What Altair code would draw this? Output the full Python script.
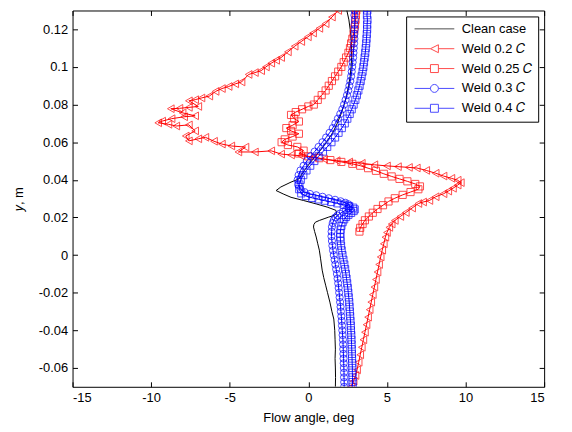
import altair as alt
import pandas as pd

# ---------------- data ----------------
series_names = ["Clean case", "Weld 0.2 𝐶", "Weld 0.25 𝐶", "Weld 0.3 𝐶", "Weld 0.4 𝐶"]
series_colors = ["#000000", "#ff0000", "#ff0000", "#0000ff", "#0000ff"]
series_shapes = [None, "triangle-left", "square", "circle", "square"]
series_sizes = [0, 60, 52, 52, 52]

x_ticks = [-15, -10, -5, 0, 5, 10, 15]
y_ticks = [-0.06, -0.04, -0.02, 0, 0.02, 0.04, 0.06, 0.08, 0.1, 0.12]

clean = [(2.45, 0.13), (2.58, 0.125), (2.66, 0.12), (2.72, 0.115), (2.75, 0.11), (2.75, 0.105),
         (2.72, 0.10), (2.66, 0.095), (2.56, 0.09), (2.44, 0.085), (2.28, 0.08), (2.08, 0.075),
         (1.84, 0.07), (1.55, 0.065), (1.15, 0.06), (0.7, 0.055), (0.2, 0.05), (-0.25, 0.045),
         (-0.6, 0.0405), (-1.1, 0.0388), (-1.75, 0.0362), (-2.05, 0.0343), (-1.6, 0.0325),
         (-1.1, 0.0307), (-0.3, 0.029), (0.5, 0.0272), (1.2, 0.0255), (1.75, 0.0238), (1.8, 0.0222),
         (1.65, 0.0211), (1.3, 0.0202), (1.0, 0.0193), (0.7, 0.0184), (0.45, 0.0175), (0.35, 0.0162),
         (0.33, 0.0149), (0.4, 0.0125), (0.5, 0.0096), (0.6, 0.006), (0.7, 0.0026), (0.78, -0.002),
         (0.88, -0.008), (0.98, -0.012), (1.1, -0.016), (1.22, -0.02), (1.37, -0.025), (1.5, -0.03),
         (1.62, -0.034), (1.68, -0.04), (1.7, -0.045), (1.72, -0.05), (1.7, -0.055), (1.72, -0.06),
         (1.73, -0.065), (1.72, -0.07)]

weld02 = [(1.9, 0.13), (1.5, 0.1265), (1.1, 0.123), (0.7, 0.1205), (0.3, 0.118), (-0.03, 0.116),
          (-0.45, 0.1135), (-0.87, 0.111), (-1.3, 0.108), (-1.73, 0.105), (-2.05, 0.1035),
          (-2.36, 0.102), (-2.7, 0.1), (-3.0, 0.098), (-3.4, 0.097), (-3.8, 0.096), (-4.25, 0.092),
          (-4.65, 0.091), (-5.07, 0.0896), (-5.5, 0.0885), (-5.9, 0.087), (-6.3, 0.0845),
          (-6.8, 0.0835), (-7.2, 0.0826), (-7.6, 0.082), (-7.0, 0.079), (-7.6, 0.0785), (-8.2, 0.078),
          (-8.75, 0.0778), (-8.0, 0.0756), (-7.2, 0.074), (-7.9, 0.0735), (-8.7, 0.0725),
          (-9.3, 0.0712), (-9.55, 0.0703), (-8.9, 0.0695), (-8.4, 0.0686), (-7.6, 0.0692),
          (-7.2, 0.066), (-7.8, 0.0633), (-7.6, 0.0607), (-7.0, 0.0618), (-6.55, 0.0626),
          (-6.0, 0.0605), (-5.5, 0.059), (-4.9, 0.058), (-4.0, 0.0574), (-4.45, 0.0548),
          (-3.4, 0.0548), (-2.36, 0.0554), (-1.73, 0.0537), (-1.1, 0.0532), (-0.47, 0.0528),
          (0.3, 0.052), (1.0, 0.051), (1.8, 0.0502), (2.6, 0.0495), (3.4, 0.0488), (4.2, 0.048),
          (5.0, 0.0474), (5.7, 0.047), (6.4, 0.0466), (6.9, 0.0463), (7.5, 0.045), (8.1, 0.0435),
          (8.6, 0.042), (9.1, 0.0408), (9.5, 0.0398), (9.7, 0.0385), (9.5, 0.0372), (9.2, 0.0355),
          (8.9, 0.034), (8.6, 0.0326), (8.1, 0.031), (7.7, 0.029), (7.3, 0.0282), (7.0, 0.0274),
          (6.6, 0.025), (6.2, 0.0226), (5.85, 0.0205), (5.5, 0.0184), (5.3, 0.0165), (5.15, 0.0147),
          (5.0, 0.012), (4.9, 0.0095), (4.8, 0.006), (4.7, 0.0026), (4.6, -0.001), (4.5, -0.005),
          (4.4, -0.009), (4.3, -0.013), (4.2, -0.017), (4.1, -0.021), (4.0, -0.025), (3.9, -0.029),
          (3.8, -0.033), (3.7, -0.037), (3.6, -0.041), (3.5, -0.045), (3.4, -0.049), (3.3, -0.053),
          (3.2, -0.057), (3.1, -0.061), (3.0, -0.064), (2.88, -0.067), (2.72, -0.07)]

weld025 = [(3.05, 0.13), (3.02, 0.1275), (3.0, 0.125), (2.97, 0.1225), (2.93, 0.12), (2.88, 0.1175),
           (2.8, 0.115), (2.72, 0.1125), (2.65, 0.11), (2.55, 0.1075), (2.4, 0.105), (2.25, 0.1025),
           (2.1, 0.1), (1.9, 0.0975), (1.7, 0.095), (1.5, 0.0925), (1.3, 0.09), (1.1, 0.0875),
           (0.85, 0.085), (0.6, 0.0825), (0.35, 0.08), (0.0, 0.079), (-0.4, 0.0775), (-0.8, 0.076),
           (-1.1, 0.0745), (-0.9, 0.0725), (-0.6, 0.071), (-1.0, 0.069), (-1.4, 0.0675), (-1.1, 0.066),
           (-0.6, 0.0645), (-1.0, 0.063), (-1.5, 0.0615), (-1.7, 0.06), (-1.3, 0.0585), (-0.7, 0.0575),
           (-0.3, 0.0555), (-0.6, 0.054), (0.0, 0.0525), (0.7, 0.0515), (1.4, 0.0505), (2.1, 0.0495),
           (2.8, 0.0485), (3.3, 0.0475), (3.8, 0.0462), (4.3, 0.0448), (4.8, 0.0432), (5.3, 0.0418),
           (5.8, 0.0405), (6.3, 0.0392), (6.8, 0.0378), (7.1, 0.0365), (7.0, 0.035), (6.5, 0.0335),
           (6.0, 0.032), (5.5, 0.0302), (5.1, 0.0285), (4.75, 0.0265), (4.4, 0.0245), (4.1, 0.0225),
           (3.85, 0.0205), (3.6, 0.0185), (3.45, 0.0165), (3.3, 0.0145), (3.25, 0.0125)]

weld03 = [(2.95, 0.13), (2.93, 0.1275), (2.96, 0.125), (2.94, 0.1225), (2.95, 0.12), (2.93, 0.1175),
          (2.93, 0.115), (2.91, 0.1125), (2.89, 0.11), (2.87, 0.1075), (2.85, 0.105), (2.82, 0.1025),
          (2.79, 0.1), (2.76, 0.0975), (2.72, 0.095), (2.67, 0.0925), (2.61, 0.09), (2.54, 0.0875),
          (2.46, 0.085), (2.37, 0.0825), (2.27, 0.08), (2.16, 0.0775), (2.03, 0.075), (1.88, 0.0725),
          (1.72, 0.07), (1.55, 0.0675), (1.35, 0.065), (1.13, 0.0625), (0.9, 0.06), (0.65, 0.0575),
          (0.4, 0.055), (0.15, 0.0525), (-0.1, 0.05), (-0.3, 0.0475), (-0.5, 0.045), (-0.62, 0.0425),
          (-0.68, 0.04), (-0.65, 0.0375), (-0.5, 0.035), (-0.25, 0.0335), (0.1, 0.0325), (0.5, 0.0318),
          (0.9, 0.031), (1.3, 0.0302), (1.7, 0.0294), (2.05, 0.0286), (2.35, 0.0278), (2.55, 0.027),
          (2.62, 0.026), (2.55, 0.025), (2.4, 0.024), (2.2, 0.023), (2.0, 0.022), (1.85, 0.021),
          (1.72, 0.02), (1.62, 0.0185), (1.55, 0.017), (1.5, 0.015), (1.48, 0.0125), (1.47, 0.01),
          (1.5, 0.0075), (1.53, 0.005), (1.57, 0.0025), (1.62, 0.0), (1.67, -0.0025), (1.72, -0.005),
          (1.77, -0.0075), (1.82, -0.01), (1.86, -0.0125), (1.9, -0.015), (1.93, -0.0175),
          (1.96, -0.02), (1.99, -0.0225), (2.02, -0.025), (2.05, -0.0275), (2.07, -0.03),
          (2.1, -0.0325), (2.12, -0.035), (2.14, -0.0375), (2.16, -0.04), (2.18, -0.0425),
          (2.2, -0.045), (2.21, -0.0475), (2.22, -0.05), (2.23, -0.0525), (2.24, -0.055),
          (2.25, -0.0575), (2.26, -0.06), (2.27, -0.0625), (2.27, -0.065), (2.28, -0.0675),
          (2.28, -0.07)]

weld04 = [(3.75, 0.13), (3.73, 0.1275), (3.76, 0.125), (3.74, 0.1225), (3.74, 0.12), (3.72, 0.1175),
          (3.7, 0.115), (3.68, 0.1125), (3.65, 0.11), (3.62, 0.1075), (3.58, 0.105), (3.54, 0.1025),
          (3.5, 0.1), (3.45, 0.0975), (3.39, 0.095), (3.33, 0.0925), (3.26, 0.09), (3.18, 0.0875),
          (3.09, 0.085), (2.99, 0.0825), (2.88, 0.08), (2.76, 0.0775), (2.63, 0.075), (2.48, 0.0725),
          (2.32, 0.07), (2.13, 0.0675), (1.92, 0.065), (1.7, 0.0625), (1.47, 0.06), (1.2, 0.0575),
          (0.93, 0.055), (0.65, 0.0525), (0.38, 0.05), (0.12, 0.0475), (-0.12, 0.045), (-0.32, 0.0425),
          (-0.48, 0.04), (-0.57, 0.0375), (-0.58, 0.035), (-0.45, 0.0328), (-0.15, 0.0314),
          (0.25, 0.0304), (0.65, 0.0296), (1.05, 0.0289), (1.45, 0.0282), (1.85, 0.0275),
          (2.25, 0.0268), (2.6, 0.026), (2.85, 0.0252), (2.95, 0.0243), (2.88, 0.0234), (2.72, 0.0224),
          (2.55, 0.0214), (2.4, 0.0203), (2.28, 0.019), (2.18, 0.0175), (2.1, 0.0155), (2.05, 0.0135),
          (2.03, 0.0115), (2.03, 0.0095), (2.05, 0.0075), (2.08, 0.005), (2.12, 0.0025), (2.17, 0.0),
          (2.23, -0.0025), (2.29, -0.005), (2.34, -0.0075), (2.39, -0.01), (2.43, -0.0125),
          (2.47, -0.015), (2.51, -0.0175), (2.54, -0.02), (2.57, -0.0225), (2.6, -0.025),
          (2.62, -0.0275), (2.64, -0.03), (2.66, -0.0325), (2.68, -0.035), (2.7, -0.0375),
          (2.71, -0.04), (2.73, -0.0425), (2.74, -0.045), (2.75, -0.0475), (2.76, -0.05),
          (2.77, -0.0525), (2.78, -0.055), (2.79, -0.0575), (2.8, -0.06), (2.8, -0.0625),
          (2.81, -0.065), (2.81, -0.0675), (2.82, -0.07)]

all_series = [clean, weld02, weld025, weld03, weld04]

# legend symbols: line with marker (custom SVG paths, unit = sqrt(size)/2 px)
legend_paths = [
    "M-1,0H9",
    "M-1,0H3M5,0H9M3,0L5,-1L5,1Z",
    "M-1,0H3M5,0H9M3,-1H5V1H3Z",
    "M-1,0H3M5,0H9M5,0A1,1,0,1,1,3,0A1,1,0,1,1,5,0Z",
    "M-1,0H3M5,0H9M3,-1H5V1H3Z",
]

rows = []
for name, pts in zip(series_names, all_series):
    for i, (a, b) in enumerate(pts):
        rows.append({"series": name, "x": a, "y": b, "idx": i})
df = pd.DataFrame(rows)
legend_df = pd.DataFrame({"series": series_names})

# ---------------- chart ----------------
W, H = 475, 379
FONT = "Liberation Sans"

xscale = alt.Scale(domain=[-15, 15], nice=False, zero=False)
yscale = alt.Scale(domain=[-0.07, 0.13], nice=False, zero=False)
cscale = alt.Scale(domain=series_names, range=series_colors)

lab = "'' + datum.value"

main_x = alt.Axis(orient="bottom", values=x_ticks, title="Flow angle, deg", ticks=False, tickSize=0,
                  labelPadding=5, titlePadding=7, domain=False, grid=False, labelExpr=lab)
main_y = alt.Axis(orient="left", values=y_ticks, title="𝑦, m", ticks=False, tickSize=0,
                  labelPadding=5, titlePadding=13, domain=False, grid=False, labelExpr=lab)


def tick_axis(orient, offset, vals):
    return alt.Axis(orient=orient, offset=offset, values=vals, labels=False, title=None,
                    ticks=True, tickSize=5, tickColor="black", tickWidth=1, domain=False, grid=False)


layers = []
for k, (name, shape, col, sz) in enumerate(zip(series_names, series_shapes, series_colors, series_sizes)):
    sub = alt.Chart(df).transform_filter(alt.datum.series == name)
    if k == 0:
        xe = alt.X("x:Q", scale=xscale, axis=main_x)
        ye = alt.Y("y:Q", scale=yscale, axis=main_y)
    else:
        xe = alt.X("x:Q", scale=xscale, axis=None)
        ye = alt.Y("y:Q", scale=yscale, axis=None)
    layers.append(
        sub.mark_line(strokeWidth=1, clip=True, color=col).encode(x=xe, y=ye, order="idx:Q")
    )
    if shape:
        layers.append(
            sub.mark_point(shape=shape, filled=False, size=sz, strokeWidth=1, color=col, clip=True)
            .encode(x=alt.X("x:Q", scale=xscale, axis=None), y=alt.Y("y:Q", scale=yscale, axis=None))
        )

base_clean = alt.Chart(df).transform_filter(alt.datum.series == series_names[0])
# inward ticks on all four sides
layers.append(
    base_clean.mark_line(opacity=0).encode(
        x=alt.X("x:Q", scale=xscale, axis=tick_axis("top", -H, x_ticks)),
        y=alt.Y("y:Q", scale=yscale, axis=tick_axis("right", -W, y_ticks)))
)
layers.append(
    base_clean.mark_line(opacity=0).encode(
        x=alt.X("x:Q", scale=xscale, axis=tick_axis("bottom", -H, x_ticks)),
        y=alt.Y("y:Q", scale=yscale, axis=tick_axis("left", -W, y_ticks)))
)

# legend-only layer (its marks are filtered out; only the legend is drawn)
leg = alt.Legend(title=None, orient="none", legendX=336, legendY=6)
layers.append(
    alt.Chart(legend_df).transform_filter("false").mark_point(filled=False, size=64, strokeWidth=1).encode(
        color=alt.Color("series:N", scale=cscale, legend=leg),
        shape=alt.Shape("series:N", scale=alt.Scale(domain=series_names, range=legend_paths), legend=leg),
    )
)

chart = (
    alt.layer(*layers)
    .resolve_axis(x="independent", y="independent")
    .properties(width=W, height=H, autosize=alt.AutoSizeParams(type="none"),
                padding={"left": 65, "top": 1, "right": 20, "bottom": 40})
    .configure_view(stroke="black", strokeWidth=1)
    .configure_axis(labelFont=FONT, labelFontSize=13, labelColor="black", titleFont=FONT,
                    titleFontSize=13, titleColor="black", titleFontWeight="normal")
    .configure_legend(labelFont=FONT, labelFontSize=13, labelColor="black", strokeColor="black",
                      fillColor="white", padding=6, symbolStrokeWidth=1, symbolSize=64,
                      rowPadding=6, labelOffset=37, cornerRadius=0)
)

chart.save("out.html", embed_options={"renderer": "svg", "actions": False})
